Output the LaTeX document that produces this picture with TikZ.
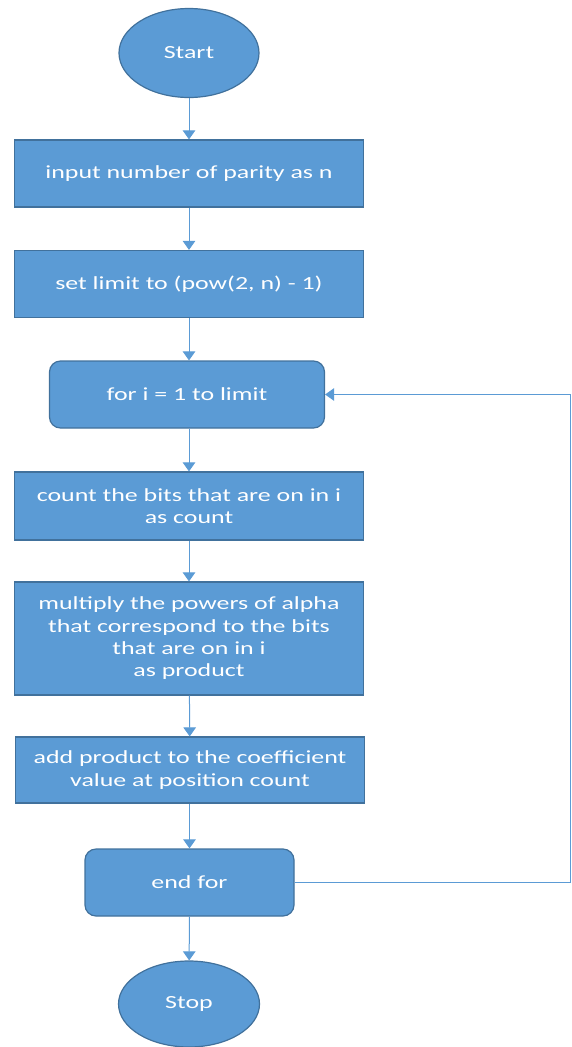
\documentclass[tikz,border=0pt]{standalone}
\usepackage{fontspec}
\setmainfont{Carlito}[FakeStretch=1.4]
\usepackage{tikz}
\usetikzlibrary{arrows.meta,shapes.geometric}

\definecolor{boxfill}{RGB}{91,155,213}
\definecolor{boxline}{RGB}{65,113,156}

\begin{document}
\begin{tikzpicture}[x=1pt,y=-1pt,
    every node/.style={text=white,font=\fontsize{18.5}{22.3}\selectfont,align=center,inner sep=0pt},
    terminal/.style={ellipse,draw=boxline,fill=boxfill,line width=1.2pt,minimum width=140pt,minimum height=89pt},
    stepbox/.style={rectangle,draw=boxline,fill=boxfill,line width=1.2pt,minimum width=349pt,minimum height=67pt},
    loopbox/.style={rectangle,rounded corners=11pt,draw=boxline,fill=boxfill,line width=1.2pt,minimum height=67pt},
    conn/.style={draw=boxfill,line width=1pt,-{Triangle[length=9pt,width=12.5pt]}}
  ]
  \useasboundingbox (0,0) rectangle (572,1047);

  \node[terminal] (start) at (189,53) {Start};
  \node[stepbox] (input) at (189,173.5) {input number of parity as n};
  \node[stepbox] (limit) at (189,284) {set limit to (pow(2, n) - 1)};
  \node[loopbox,minimum width=275pt] (forloop) at (187,394.5) {for i = 1 to limit};
  \node[stepbox,minimum height=68pt] (count) at (189,506) {count the bits that are on in i\\as count};
  \node[stepbox,minimum height=113pt] (multiply) at (189,638.5) {multiply the powers of alpha\\that correspond to the bits\\that are on in i\\as product};
  \node[stepbox,minimum height=66pt] (add) at (190,770) {add product to the coefficient\\value at position count};
  \node[loopbox,minimum width=209pt] (endfor) at (189.5,882.5) {end for};
  \node[terminal,minimum width=141pt,minimum height=86pt] (stop) at (189,1004) {Stop};

  % main flow
  \draw[conn] (start) -- (input);
  \draw[conn] (input) -- (limit);
  \draw[conn] (limit.south) -- (limit.south |- forloop.north);
  \draw[conn] (forloop.south -| count.north) -- (count);
  \draw[conn] (count) -- (multiply);
  \draw[conn] (multiply) -- (add);
  \draw[conn] (add.south -| endfor.north) -- (endfor);
  \draw[conn] (endfor) -- (stop);

  % back edge of the loop
  \coordinate (rail) at (570.5,0);
  \draw[conn] (endfor.east) -- (endfor.east -| rail) -- (forloop.east -| rail) -- (forloop.east);
\end{tikzpicture}
\end{document}
